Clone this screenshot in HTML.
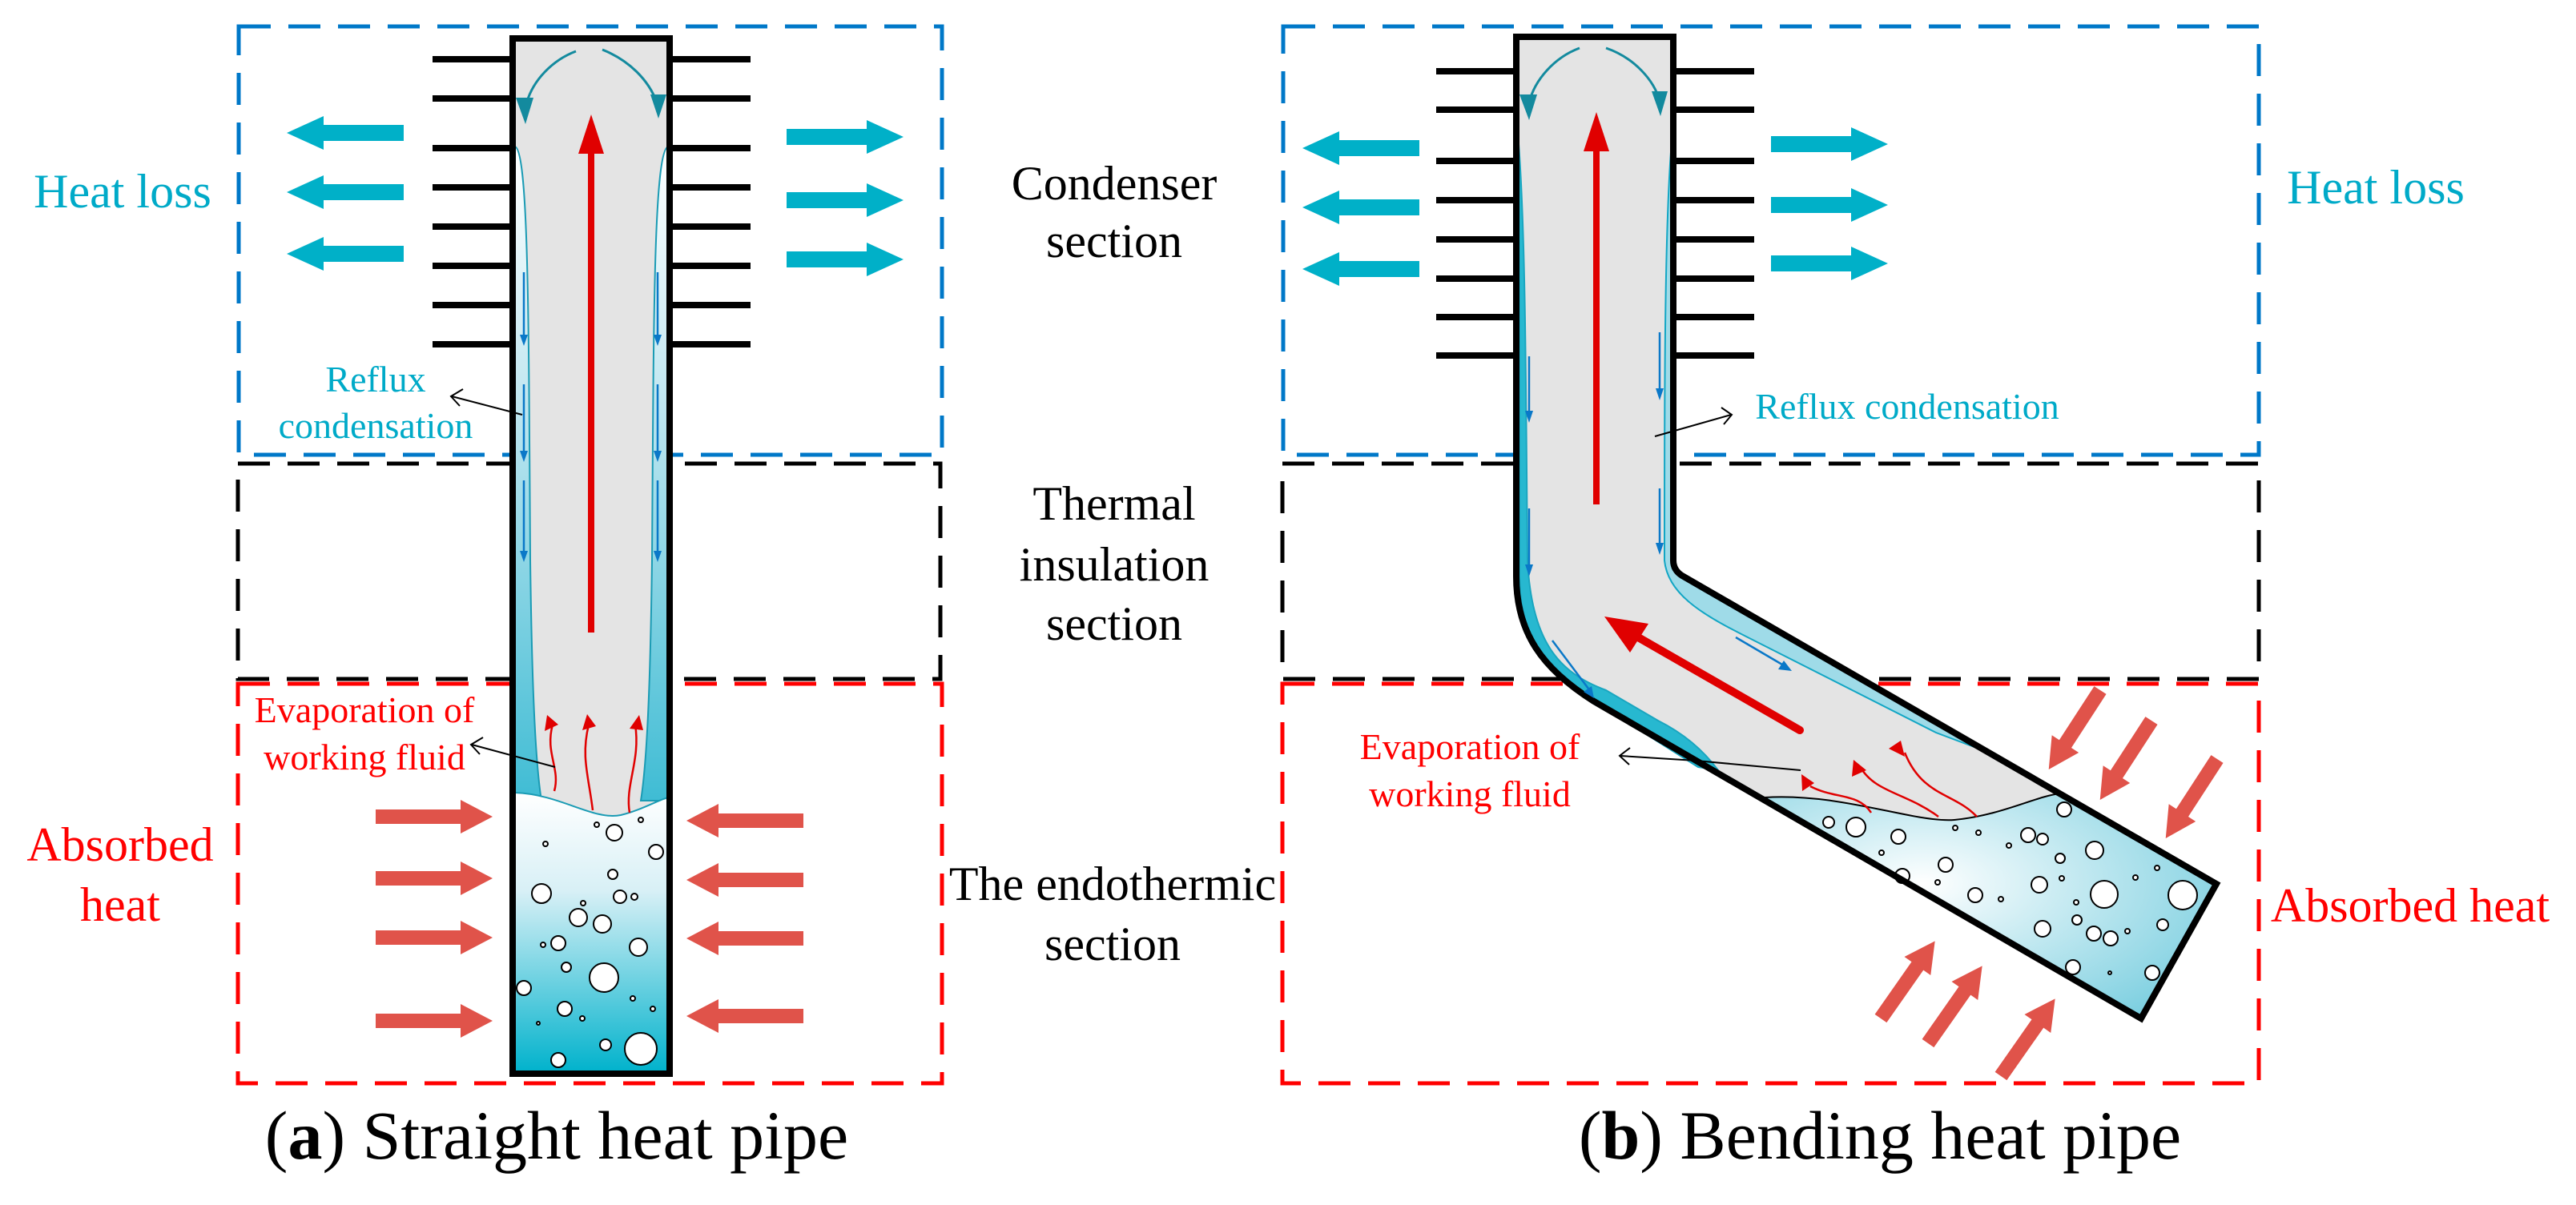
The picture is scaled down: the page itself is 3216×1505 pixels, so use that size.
<!DOCTYPE html>
<html><head><meta charset="utf-8"><style>
html,body{margin:0;padding:0;background:#fff}
body{position:relative;width:3216px;height:1505px;overflow:hidden}
svg{display:block;position:absolute;left:0;top:0}
.t{position:absolute;width:1000px;text-align:center;font-family:"Liberation Serif","DejaVu Serif",serif;white-space:nowrap;line-height:1}
.f60{font-size:60px}.f46{font-size:46px}.f86{font-size:86px}
.cy{color:#00aac8}.rd{color:#ff0000}.bk{color:#000}
</style></head><body>
<svg width="3216" height="1505" viewBox="0 0 3216 1505" xmlns="http://www.w3.org/2000/svg">
<defs>
<linearGradient id="pool1" x1="0" y1="0" x2="0" y2="1">
<stop offset="0" stop-color="#ffffff"/><stop offset="0.35" stop-color="#d8f0f6"/><stop offset="1" stop-color="#00b2cc"/></linearGradient>
<linearGradient id="film" x1="0" y1="0" x2="0" y2="1">
<stop offset="0" stop-color="#ffffff"/><stop offset="0.4" stop-color="#bfe6f0"/><stop offset="1" stop-color="#3fbcd4"/></linearGradient>
<radialGradient id="pool2" cx="0.35" cy="0.4" r="0.75">
<stop offset="0" stop-color="#ffffff"/><stop offset="1" stop-color="#7ccfe0"/></radialGradient>
<g id="ra"><polygon points="0,-9 106,-9 106,-21 146,0 106,21 106,9 0,9" fill="#e0534a"/></g>
<g id="ca"><polygon points="0,-10 100,-10 100,-21 146,0 100,21 100,10 0,10" fill="#00b0c8"/></g>
<g id="da"><polygon points="0,-9 80,-9 80,-20 118,0 80,20 80,9 0,9" fill="#e0534a"/></g>
<path id="rp" d="M1893,46 L2089,46 L2089,700 Q2089,712 2100,719 L2767,1104 L2673,1272 L1990,876 C1925,835 1893,790 1893,720 Z"/>
</defs>

<g fill="none" stroke-width="5" stroke-dasharray="40,22">
<rect x="298" y="33" width="878" height="535" stroke="#0078c8"/>
<rect x="297" y="579" width="877" height="269" stroke="#000"/>
<rect x="297" y="854" width="879" height="499" stroke="#ff0000"/>
<rect x="1602" y="33" width="1218" height="535" stroke="#0078c8"/>
<rect x="1601" y="579" width="1219" height="269" stroke="#000"/>
<rect x="1601" y="854" width="1219" height="499" stroke="#ff0000"/>
</g>

<g stroke="#000" stroke-width="8">
<line x1="540" y1="74" x2="640" y2="74"/><line x1="540" y1="123" x2="640" y2="123"/>
<line x1="540" y1="185" x2="640" y2="185"/><line x1="540" y1="234" x2="640" y2="234"/>
<line x1="540" y1="283" x2="640" y2="283"/><line x1="540" y1="332" x2="640" y2="332"/>
<line x1="540" y1="381" x2="640" y2="381"/><line x1="540" y1="430" x2="640" y2="430"/>
<line x1="836" y1="74" x2="937" y2="74"/><line x1="836" y1="123" x2="937" y2="123"/>
<line x1="836" y1="185" x2="937" y2="185"/><line x1="836" y1="234" x2="937" y2="234"/>
<line x1="836" y1="283" x2="937" y2="283"/><line x1="836" y1="332" x2="937" y2="332"/>
<line x1="836" y1="381" x2="937" y2="381"/><line x1="836" y1="430" x2="937" y2="430"/>
</g>
<rect x="642" y="50" width="194" height="1290" fill="#e4e4e4"/>
<path d="M643,183 C660,190 660,400 662,700 C664,850 668,950 676,1000 L643,1000 Z" fill="url(#film)" stroke="#1a9bb4" stroke-width="2"/>
<path d="M834,183 C816,190 816,400 814,700 C812,850 808,950 800,1000 L834,1000 Z" fill="url(#film)" stroke="#1a9bb4" stroke-width="2"/>
<path d="M643,990 C700,992 740,1025 775,1018 C800,1012 820,1000 834,996 L834,1340 L643,1340 Z" fill="url(#pool1)" stroke="#1a9bb4" stroke-width="2"/>
<g fill="#fff" stroke="#000" stroke-width="2">
<circle cx="767" cy="1040" r="10"/><circle cx="745" cy="1030" r="3"/><circle cx="800" cy="1024" r="3"/>
<circle cx="819" cy="1064" r="9"/><circle cx="681" cy="1054" r="3"/><circle cx="765" cy="1092" r="6"/>
<circle cx="676" cy="1116" r="12"/><circle cx="774" cy="1120" r="8"/><circle cx="792" cy="1120" r="4"/>
<circle cx="722" cy="1146" r="11"/><circle cx="752" cy="1154" r="11"/><circle cx="728" cy="1128" r="3"/>
<circle cx="697" cy="1178" r="9"/><circle cx="678" cy="1180" r="3"/><circle cx="797" cy="1183" r="11"/>
<circle cx="707" cy="1208" r="6"/><circle cx="754" cy="1221" r="18"/><circle cx="654" cy="1234" r="9"/>
<circle cx="790" cy="1247" r="3"/><circle cx="705" cy="1260" r="9"/><circle cx="727" cy="1272" r="3"/>
<circle cx="672" cy="1278" r="2"/><circle cx="815" cy="1260" r="3"/><circle cx="756" cy="1305" r="7"/>
<circle cx="800" cy="1310" r="20"/><circle cx="697" cy="1324" r="9"/>
</g>
<rect x="640" y="48" width="196" height="1293" fill="none" stroke="#000" stroke-width="8"/>
<g fill="none" stroke="#138a9e" stroke-width="3">
<path d="M719,64 C690,75 665,100 657,130"/><path d="M752,62 C785,75 810,100 820,128"/>
</g>
<polygon points="644,122 666,122 656,155" fill="#138a9e"/><polygon points="812,118 832,118 822,148" fill="#138a9e"/>
<rect x="734" y="188" width="8" height="602" fill="#e00000"/>
<polygon points="738,143 722,192 754,192" fill="#e00000"/>
<g stroke="#0a78c8" stroke-width="2.5" fill="#0a78c8">
<line x1="654" y1="340" x2="654" y2="425"/><polygon points="649,418 659,418 654,432" stroke="none"/>
<line x1="654" y1="480" x2="654" y2="570"/><polygon points="649,563 659,563 654,577" stroke="none"/>
<line x1="654" y1="600" x2="654" y2="695"/><polygon points="649,688 659,688 654,702" stroke="none"/>
<line x1="821" y1="340" x2="821" y2="425"/><polygon points="816,418 826,418 821,432" stroke="none"/>
<line x1="821" y1="480" x2="821" y2="570"/><polygon points="816,563 826,563 821,577" stroke="none"/>
<line x1="821" y1="600" x2="821" y2="695"/><polygon points="816,688 826,688 821,702" stroke="none"/>
</g>
<g fill="none" stroke="#e00000" stroke-width="2.5">
<path d="M692,988 C700,960 680,940 690,905"/><path d="M740,1012 C735,970 725,945 735,905"/><path d="M786,1015 C780,980 800,950 793,905"/>
</g>
<g fill="#e00000"><polygon points="683,893 680,913 697,905"/><polygon points="733,892 727,912 744,907"/><polygon points="798,893 786,910 803,912"/></g>
<g stroke="#000" stroke-width="2" fill="none">
<line x1="652" y1="518" x2="564" y2="495"/><polyline points="578,486 563,495 574,507"/>
<line x1="693" y1="958" x2="589" y2="930"/><polyline points="603,921 588,930 599,942"/>
</g>
<use href="#ca" transform="translate(504,166) rotate(180)"/><use href="#ca" transform="translate(504,240) rotate(180)"/><use href="#ca" transform="translate(504,317) rotate(180)"/>
<use href="#ca" transform="translate(982,171)"/><use href="#ca" transform="translate(982,250)"/><use href="#ca" transform="translate(982,324)"/>
<use href="#ra" transform="translate(469,1020)"/><use href="#ra" transform="translate(469,1097)"/><use href="#ra" transform="translate(469,1171)"/><use href="#ra" transform="translate(469,1275)"/>
<use href="#ra" transform="translate(1003,1025) rotate(180)"/><use href="#ra" transform="translate(1003,1099) rotate(180)"/><use href="#ra" transform="translate(1003,1172) rotate(180)"/><use href="#ra" transform="translate(1003,1269) rotate(180)"/>

<g stroke="#000" stroke-width="8">
<line x1="1793" y1="89" x2="1893" y2="89"/><line x1="1793" y1="137" x2="1893" y2="137"/>
<line x1="1793" y1="201" x2="1893" y2="201"/><line x1="1793" y1="250" x2="1893" y2="250"/>
<line x1="1793" y1="299" x2="1893" y2="299"/><line x1="1793" y1="348" x2="1893" y2="348"/>
<line x1="1793" y1="396" x2="1893" y2="396"/><line x1="1793" y1="444" x2="1893" y2="444"/>
<line x1="2089" y1="89" x2="2190" y2="89"/><line x1="2089" y1="137" x2="2190" y2="137"/>
<line x1="2089" y1="201" x2="2190" y2="201"/><line x1="2089" y1="250" x2="2190" y2="250"/>
<line x1="2089" y1="299" x2="2190" y2="299"/><line x1="2089" y1="348" x2="2190" y2="348"/>
<line x1="2089" y1="396" x2="2190" y2="396"/><line x1="2089" y1="444" x2="2190" y2="444"/>
</g>
<use href="#rp" fill="#e4e4e4"/>
<path d="M1896,180 C1905,300 1905,500 1907,700 C1912,800 1945,840 2005,862 L2070,900 C2100,915 2125,935 2145,962 L2120,958 L1990,876 C1925,835 1897,790 1897,720 Z" fill="#27b8d0" stroke="#1aa6c0" stroke-width="2"/>
<path d="M2086,190 C2078,300 2078,500 2078,700 C2082,740 2120,765 2180,795 L2417,915 L2470,935 L2100,719 Q2089,712 2089,700 Z" fill="#9fdbe8" stroke="#12a6c4" stroke-width="2"/>
<path d="M2203,996 C2300,990 2390,1028 2440,1024 C2500,1018 2540,995 2572,991 L2767,1104 L2673,1272 Z" fill="url(#pool2)" stroke="#000" stroke-width="2"/>
<g fill="#fff" stroke="#000" stroke-width="2">
<circle cx="2283" cy="1027" r="7"/><circle cx="2317" cy="1033" r="12"/><circle cx="2370" cy="1045" r="9"/>
<circle cx="2441" cy="1034" r="3"/><circle cx="2470" cy="1040" r="3"/>
<circle cx="2532" cy="1043" r="9"/><circle cx="2550" cy="1048" r="7"/><circle cx="2577" cy="1011" r="9"/>
<circle cx="2508" cy="1056" r="3"/><circle cx="2572" cy="1072" r="6"/><circle cx="2615" cy="1062" r="11"/>
<circle cx="2349" cy="1065" r="3"/><circle cx="2429" cy="1080" r="9"/><circle cx="2375" cy="1094" r="9"/>
<circle cx="2419" cy="1102" r="3"/><circle cx="2546" cy="1105" r="10"/><circle cx="2574" cy="1097" r="3"/>
<circle cx="2627" cy="1117" r="17"/><circle cx="2666" cy="1096" r="3"/><circle cx="2693" cy="1084" r="3"/>
<circle cx="2725" cy="1118" r="18"/><circle cx="2466" cy="1118" r="9"/><circle cx="2498" cy="1123" r="3"/>
<circle cx="2592" cy="1127" r="3"/><circle cx="2593" cy="1149" r="6"/><circle cx="2550" cy="1160" r="10"/>
<circle cx="2614" cy="1166" r="9"/><circle cx="2635" cy="1172" r="9"/><circle cx="2656" cy="1163" r="3"/>
<circle cx="2700" cy="1155" r="7"/><circle cx="2588" cy="1208" r="9"/><circle cx="2634" cy="1215" r="2"/>
<circle cx="2687" cy="1215" r="9"/>
</g>
<use href="#rp" fill="none" stroke="#000" stroke-width="8"/>
<g fill="none" stroke="#138a9e" stroke-width="3">
<path d="M1972,60 C1940,72 1916,100 1909,128"/><path d="M2005,60 C2040,72 2065,100 2072,126"/>
</g>
<polygon points="1897,118 1919,118 1909,150" fill="#138a9e"/><polygon points="2062,114 2082,114 2073,145" fill="#138a9e"/>
<rect x="1989" y="186" width="8" height="444" fill="#e00000"/>
<polygon points="1993,140 1977,189 2009,189" fill="#e00000"/>
<g stroke="#0a78c8" stroke-width="2.5" fill="#0a78c8">
<line x1="1909" y1="445" x2="1909" y2="520"/><polygon points="1904,513 1914,513 1909,528" stroke="none"/>
<line x1="1909" y1="635" x2="1909" y2="712"/><polygon points="1904,705 1914,705 1909,720" stroke="none"/>
<line x1="2072" y1="415" x2="2072" y2="492"/><polygon points="2067,485 2077,485 2072,500" stroke="none"/>
<line x1="2072" y1="610" x2="2072" y2="685"/><polygon points="2067,678 2077,678 2072,693" stroke="none"/>
<line x1="1938" y1="800" x2="1983" y2="860"/><polygon points="1977,864 1987,857 1990,872" stroke="none"/>
<line x1="2167" y1="796" x2="2225" y2="830"/><polygon points="2220,836 2227,825 2237,838" stroke="none"/>
</g>
<line x1="2247" y1="912" x2="2040" y2="793" stroke="#e00000" stroke-width="10" stroke-linecap="round"/>
<polygon points="2003,770 2058,779 2035,815" fill="#e00000"/>
<g fill="none" stroke="#e00000" stroke-width="2.5">
<path d="M2336,1015 C2320,990 2290,998 2260,982"/><path d="M2420,1020 C2380,990 2340,990 2322,957"/><path d="M2468,1020 C2440,990 2400,995 2378,940"/>
</g>
<g fill="#e00000"><polygon points="2249,967 2250,988 2265,978"/><polygon points="2314,949 2312,970 2330,962"/><polygon points="2358,935 2378,945 2373,925"/></g>
<g stroke="#000" stroke-width="2" fill="none">
<line x1="2066" y1="545" x2="2161" y2="518"/><polyline points="2149,509 2162,518 2152,530"/>
<polyline points="2248,962 2117,950 2023,944"/><polyline points="2035,934 2022,944 2034,955"/>
</g>
<use href="#ca" transform="translate(1772,185) rotate(180)"/><use href="#ca" transform="translate(1772,259) rotate(180)"/><use href="#ca" transform="translate(1772,336) rotate(180)"/>
<use href="#ca" transform="translate(2211,180)"/><use href="#ca" transform="translate(2211,256)"/><use href="#ca" transform="translate(2211,329)"/>
<use href="#da" transform="translate(2622,862) rotate(123)"/><use href="#da" transform="translate(2686,900) rotate(123)"/><use href="#da" transform="translate(2768,948) rotate(123)"/>
<use href="#da" transform="translate(2348,1272) rotate(-55)"/><use href="#da" transform="translate(2407,1303) rotate(-55)"/><use href="#da" transform="translate(2498,1344) rotate(-55)"/>
</svg>

<div class="t f60 cy" style="left:-347px;top:209px">Heat loss</div>
<div class="t f60 rd" style="left:-350px;top:1025px">Absorbed</div>
<div class="t f60 rd" style="left:-350px;top:1100px">heat</div>
<div class="t f60 bk" style="left:891px;top:199px">Condenser</div>
<div class="t f60 bk" style="left:891px;top:271px">section</div>
<div class="t f60 bk" style="left:891px;top:599px">Thermal</div>
<div class="t f60 bk" style="left:891px;top:675px">insulation</div>
<div class="t f60 bk" style="left:891px;top:749px">section</div>
<div class="t f60 bk" style="left:889px;top:1074px">The endothermic</div>
<div class="t f60 bk" style="left:889px;top:1149px">section</div>
<div class="t f60 cy" style="left:2466px;top:204px">Heat loss</div>
<div class="t f60 rd" style="left:2509px;top:1101px">Absorbed heat</div>
<div class="t f46 cy" style="left:-31px;top:451px">Reflux</div>
<div class="t f46 cy" style="left:-31px;top:509px">condensation</div>
<div class="t f46 rd" style="left:-45px;top:864px">Evaporation of</div>
<div class="t f46 rd" style="left:-45px;top:923px">working fluid</div>
<div class="t f46 cy" style="left:1881px;top:485px">Reflux condensation</div>
<div class="t f46 rd" style="left:1335px;top:910px">Evaporation of</div>
<div class="t f46 rd" style="left:1335px;top:969px">working fluid</div>
<div class="t f86 bk" style="left:195px;top:1375px">(<b>a</b>) Straight heat pipe</div>
<div class="t f86 bk" style="left:1847px;top:1375px">(<b>b</b>) Bending heat pipe</div>
</body></html>
